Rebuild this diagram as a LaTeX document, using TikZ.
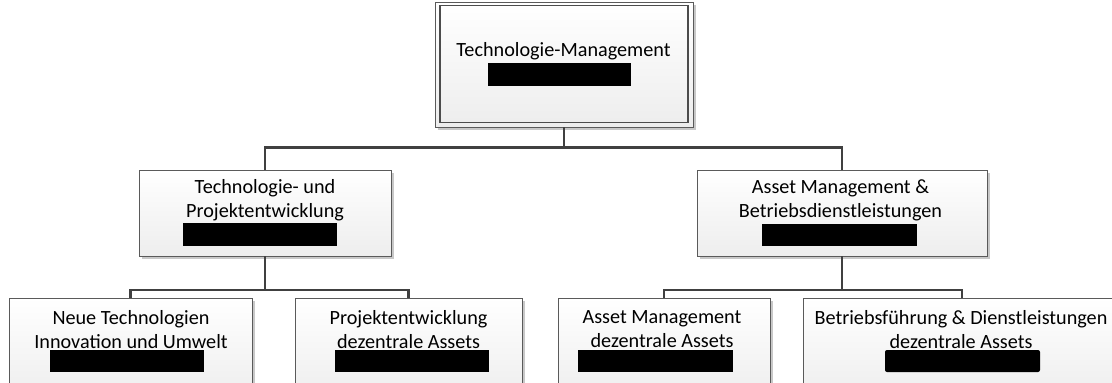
\documentclass[tikz,border=0pt]{standalone}
\usepackage{fontspec}
\setmainfont{Carlito}
\usetikzlibrary{shadows}
\definecolor{edge}{HTML}{5A5A5A}
\definecolor{wire}{HTML}{404040}
\definecolor{shade}{HTML}{C8C8C8}
\begin{document}
\begin{tikzpicture}[x=1pt,y=-1pt,
  unitbox/.style={rectangle, draw=edge, line width=0.9pt, inner sep=0pt,
    top color=white, bottom color=black!7,
    drop shadow={shadow xshift=3pt, shadow yshift=-3pt, fill=shade, opacity=1}},
  innerframe/.style={rectangle, draw=edge!85!black, line width=1.2pt, inner sep=0pt},
  lbl/.style={align=center, inner sep=0pt, font=\fontsize{20.2}{24}\selectfont},
  bar/.style={rectangle, fill=black, inner sep=0pt},
  conn/.style={draw=wire, line width=2.8pt}]
\useasboundingbox (0,0) rectangle (1112,383);

% top unit: double frame
\node[unitbox, minimum width=258, minimum height=125] (top) at (564,64.5) {};
\node[innerframe, minimum width=248, minimum height=117] (topin) at (564,64) {};
\node[lbl] (toptxt) at (563.5,51) {Technologie-Management};
\node[bar, minimum width=143, minimum height=23] (topbar) at (559.5,74.5) {};

% second level
\node[unitbox, minimum width=252, minimum height=86] (dev) at (265,213) {};
\node[lbl] (devtxt) at (265,200) {Technologie- und\\Projektentwicklung};
\node[bar, minimum width=154, minimum height=23] (devbar) at (260,234.5) {};

\node[unitbox, minimum width=290, minimum height=86] (asset) at (842,213) {};
\node[lbl] (assettxt) at (840.5,200) {Asset Management \&\\Betriebsdienstleistungen};
\node[bar, minimum width=155, minimum height=22] (assetbar) at (839.5,235) {};

% third level (boxes run past the lower edge)
\node[unitbox, minimum width=243, minimum height=104] (nt) at (130.5,350) {};
\node[lbl] (nttxt) at (131,329.5) {Neue Technologien\\Innovation und Umwelt};
\node[bar, minimum width=154, minimum height=22] (ntbar) at (127,361) {};

\node[unitbox, minimum width=227, minimum height=104] (pe) at (408.5,350) {};
\node[lbl] (petxt) at (408.5,329.5) {Projektentwicklung\\dezentrale Assets};
\node[bar, minimum width=154, minimum height=22] (pebar) at (412,361) {};

\node[unitbox, minimum width=212, minimum height=104] (am) at (664,350) {};
\node[lbl] (amtxt) at (662,329.5) {Asset Management\\dezentrale Assets};
\node[bar, minimum width=155, minimum height=22] (ambar) at (655.5,361) {};

\node[unitbox, minimum width=318, minimum height=104] (bf) at (962,350) {};
\node[lbl] (bftxt) at (961,329.5) {Betriebsführung \& Dienstleistungen\\dezentrale Assets};
\node[bar, minimum width=155, minimum height=22, rounded corners=2pt] (bfbar) at (962.5,361) {};

% connectors
\coordinate (j0) at (564,147.5);
\coordinate (j1) at (265,290);
\coordinate (j2) at (842,290);
\draw[conn] (top.south) -- (j0);
\draw[conn] (j0) -| (dev.north);
\draw[conn] (j0) -| (asset.north);
\draw[conn] (dev.south) -- (j1);
\draw[conn] (j1) -| (nt.north);
\draw[conn] (j1) -| (pe.north);
\draw[conn] (asset.south) -- (j2);
\draw[conn] (j2) -| (am.north);
\draw[conn] (j2) -| (bf.north);
\end{tikzpicture}
\end{document}
